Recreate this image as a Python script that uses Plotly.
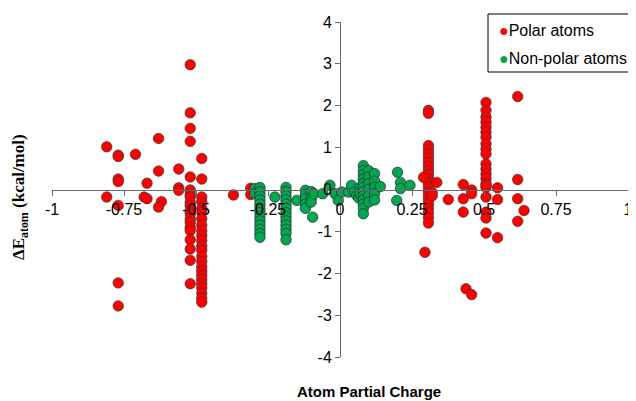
import plotly.graph_objects as go

# ---------------- data ----------------
polar_x = [
    -0.81, -0.77, -0.77, -0.71, -0.63, -0.52, -0.52, -0.52, -0.52, -0.48,
    -0.56, -0.63, -0.52, -0.48, -0.77, -0.77, -0.67, -0.56, -0.56, -0.81,
    -0.68, -0.67, -0.77, -0.62, -0.63, -0.37, -0.77, -0.77,
    # column near -0.52
    -0.52, -0.52, -0.52, -0.52, -0.52, -0.52, -0.52, -0.52, -0.52, -0.52,
    -0.52, -0.52, -0.52, -0.52, -0.52,
    # column near -0.48
    -0.48, -0.48, -0.48, -0.48, -0.48, -0.48, -0.48, -0.48, -0.48, -0.48,
    -0.48, -0.48, -0.48, -0.48, -0.48, -0.48, -0.48, -0.48, -0.48, -0.48,
    -0.48, -0.48,
    # near -0.31
    -0.31, -0.305, -0.31,
    # column near 0.307
    0.307, 0.307, 0.307, 0.307, 0.307, 0.307, 0.307, 0.307, 0.307, 0.307,
    0.307, 0.307, 0.307, 0.307, 0.307, 0.307, 0.307, 0.307, 0.307, 0.307,
    0.307, 0.295,
    0.29, 0.336, 0.32, 0.32, 0.376, 0.428, 0.428, 0.428, 0.457, 0.457,
    0.4375, 0.457,
    # column near 0.507
    0.507, 0.507, 0.507, 0.507, 0.507, 0.507, 0.507, 0.507, 0.507, 0.507,
    0.507, 0.507, 0.507, 0.507, 0.507, 0.507, 0.507, 0.507, 0.507, 0.507,
    0.507,
    0.547, 0.547, 0.547, 0.617, 0.617, 0.617, 0.639, 0.617,
]
polar_y = [
    1.02, 0.82, 0.79, 0.84, 1.22, 2.98, 1.83, 1.46, 1.15, 0.74,
    0.49, 0.44, 0.30, 0.25, 0.25, 0.19, 0.15, 0.04, -0.02, -0.18,
    -0.18, -0.22, -0.38, -0.29, -0.42, -0.13, -2.23, -2.78,
    -0.01, -0.12, -0.18, -0.30, -0.38, -0.50, -0.58, -0.70, -0.78, -0.90,
    -0.98, -1.20, -1.42, -1.69, -2.25,
    -0.18, -0.30, -0.45, -0.55, -0.70, -0.85, -0.98, -1.10, -1.22, -1.35,
    -1.45, -1.60, -1.72, -1.85, -1.95, -2.05, -2.15, -2.25, -2.35, -2.48,
    -2.60, -2.69,
    0.03, -0.08, -0.12,
    1.89, 1.82, 1.05, 0.95, 0.85, 0.75, 0.65, 0.55, 0.45, 0.35,
    0.25, 0.15, 0.05, -0.05, -0.15, -0.25, -0.35, -0.45, -0.55, -0.67,
    -0.80, -1.50,
    0.29, 0.17, -0.07, -0.15, -0.24, 0.12, -0.22, -0.54, -0.01, -0.10,
    -2.37, -2.51,
    2.08, 1.89, 1.73, 1.61, 1.49, 1.37, 1.25, 1.09, 0.97, 0.85,
    0.61, 0.49, 0.37, 0.26, 0.14, 0.05, -0.18, -0.54, -0.68, -1.04,
    0.10,
    0.04, -0.24, -1.15, 2.22, 0.24, -0.22, -0.50, -0.76,
]

nonpolar_x = [
    -0.295, -0.295,
    -0.278, -0.278, -0.278, -0.278, -0.278, -0.278, -0.278, -0.278, -0.278,
    -0.278, -0.278, -0.278, -0.278,
    -0.226,
    -0.1875, -0.1875, -0.1875, -0.1875, -0.1875, -0.1875, -0.1875, -0.1875,
    -0.1875, -0.1875, -0.1875, -0.1875, -0.1875,
    -0.15,
    -0.12, -0.12, -0.12, -0.12, -0.12, -0.10, -0.10, -0.10, -0.095, -0.09,
    -0.06, -0.035, -0.017, -0.006, 0.006, 0.03, 0.04, 0.05, 0.058, 0.065,
    0.07, 0.07,
    0.081, 0.081, 0.081, 0.081, 0.081, 0.081, 0.081, 0.081, 0.081, 0.081,
    0.081, 0.081,
    0.10, 0.10, 0.10, 0.10, 0.10, 0.10, 0.12, 0.12, 0.12, 0.12, 0.12,
    0.14,
    0.20, 0.21, 0.21, 0.243, 0.197,
]
nonpolar_y = [
    0.02, -0.10,
    0.05, -0.05, -0.15, -0.25, -0.35, -0.45, -0.55, -0.65, -0.75,
    -0.85, -0.95, -1.05, -1.14,
    -0.18,
    0.05, -0.05, -0.15, -0.25, -0.35, -0.45, -0.55, -0.65,
    -0.75, -0.85, -0.95, -1.05, -1.20,
    -0.26,
    -0.02, -0.12, -0.22, -0.35, -0.45, -0.05, -0.20, -0.30, -0.66, -0.10,
    -0.10, 0.10, -0.10, -0.26, -0.06, -0.06, 0.10, -0.06, -0.14, -0.20,
    0.05, -0.10,
    0.57, 0.45, 0.35, 0.25, 0.15, 0.05, -0.05, -0.15, -0.25, -0.35,
    -0.45, -0.58,
    0.45, 0.30, 0.15, 0.00, -0.15, -0.30, 0.38, 0.20, 0.05, -0.10, -0.25,
    0.07,
    0.41, 0.17, 0.02, 0.10, -0.26,
]

series_names = ["Polar atoms", "Non-polar atoms"]
x_ticks = [-1, -0.75, -0.5, -0.25, 0, 0.25, 0.5, 0.75, 1]
x_tick_text = ["-1", "-0.75", "-0.5", "-0.25", "0", "0.25", "0.5", "0.75", "1"]
y_ticks = [-4, -3, -2, -1, 0, 1, 2, 3, 4]
y_tick_text = ["-4", "-3", "-2", "-1", "0", "1", "2", "3", "4"]

RED = "#FF0000"
GREEN = "#00A651"

fig = go.Figure()
fig.add_trace(go.Scatter(
    x=polar_x, y=polar_y, mode="markers", name=series_names[0],
    showlegend=False,
    marker=dict(color=RED, size=10.5, line=dict(color="#3a3a3a", width=0.7)),
))
fig.add_trace(go.Scatter(
    x=nonpolar_x, y=nonpolar_y, mode="markers", name=series_names[1],
    showlegend=False,
    marker=dict(color=GREEN, size=10.5, line=dict(color="#2a2a2a", width=0.7)),
))

SANS = "Liberation Sans, Arial"
axis_font = dict(family=SANS, size=16, color="black")

# plot area in page pixels: x 52..628, y 22..357
def px_x(p):
    return (p - 52) / 576.0

def px_y(p):
    return (357 - p) / 335.0

# the page body adds an 8px offset, so margins are reduced by 8
fig.update_layout(
    width=636, height=401,
    margin=dict(l=44, r=16, t=14, b=52, autoexpand=False),
    paper_bgcolor="white", plot_bgcolor="white",
    font=axis_font,
    showlegend=False,
    xaxis=dict(
        range=[-1, 1], tickvals=x_ticks, ticktext=x_tick_text,
        showgrid=False, zeroline=False, showline=True,
        linecolor="#6a6a6a", linewidth=1,
        ticks="outside", ticklen=5, tickcolor="#6a6a6a",
        anchor="free", position=0.5, side="bottom",
        tickfont=axis_font, automargin=False,
    ),
    yaxis=dict(
        range=[-4, 4], tickvals=y_ticks, ticktext=y_tick_text,
        showgrid=False, zeroline=False, showline=True,
        linecolor="#6a6a6a", linewidth=1,
        ticks="outside", ticklen=5, tickcolor="#6a6a6a",
        anchor="free", position=0.5, side="left",
        tickfont=axis_font, automargin=False,
    ),
    shapes=[
        dict(type="rect", xref="paper", yref="paper",
             x0=px_x(488), x1=px_x(641), y0=px_y(72), y1=px_y(14),
             line=dict(color="black", width=1), fillcolor="white", layer="above"),
    ],
    annotations=[
        dict(
            text=f"<span style='color:{RED}'>●</span>{series_names[0]}",
            xref="paper", yref="paper", x=px_x(497), y=px_y(30),
            xanchor="left", yanchor="middle", showarrow=False,
            font=dict(family=SANS, size=16, color="black"),
        ),
        dict(
            text=f"<span style='color:{GREEN}'>●</span>{series_names[1]}",
            xref="paper", yref="paper", x=px_x(497), y=px_y(58),
            xanchor="left", yanchor="middle", showarrow=False,
            font=dict(family=SANS, size=16, color="black"),
        ),
        dict(
            text="Atom Partial Charge", xref="paper", yref="paper",
            x=px_x(369), y=px_y(391), xanchor="center", yanchor="middle",
            showarrow=False,
            font=dict(family=SANS, size=15, color="black", weight="bold"),
        ),
        dict(
            text="ΔE<sub>atom</sub> (kcal/mol)", xref="paper", yref="paper",
            x=px_x(20), y=px_y(197), xanchor="center", yanchor="middle",
            textangle=-90, showarrow=False,
            font=dict(family="Liberation Serif, Times New Roman", size=17, color="black", weight="bold"),
        ),
    ],
)

fig.write_html("out.html")
